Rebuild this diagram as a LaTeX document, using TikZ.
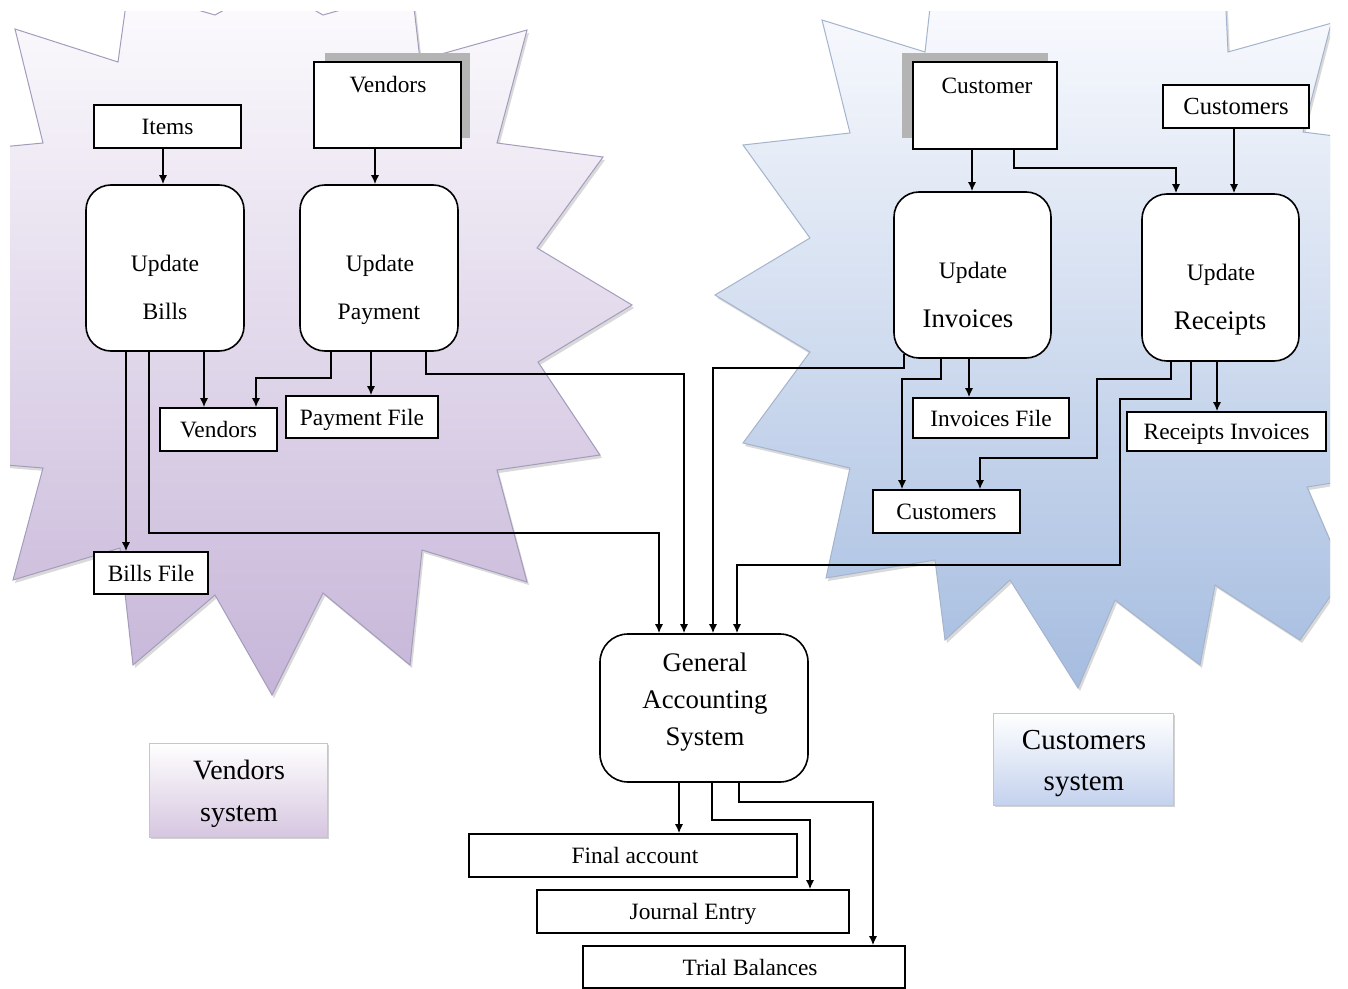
\documentclass[tikz,border=0pt]{standalone}
\usepackage{fontspec}
\setmainfont{Liberation Serif}
\usetikzlibrary{arrows.meta,shadows}
\definecolor{vtop}{HTML}{FDFCFE}
\definecolor{vmid}{HTML}{EDE7F2}
\definecolor{vbot}{HTML}{C6B5D8}
\definecolor{vline}{HTML}{A49CBC}
\definecolor{ctop}{HTML}{FAFBFE}
\definecolor{cmid}{HTML}{DEE6F4}
\definecolor{cbot}{HTML}{A6BDE0}
\definecolor{cline}{HTML}{A4B4CC}
\definecolor{shd}{HTML}{B4B4B4}
\definecolor{vsysb}{HTML}{D6C6E0}
\definecolor{csysb}{HTML}{C4D2EE}
\newcommand\fsz[2]{\fontsize{#1}{#2}\selectfont}
\begin{document}
\begin{tikzpicture}[x=0.5pt,y=-0.5pt,
  box/.style={draw=black, line width=0.8pt, fill=white, inner sep=0pt, rectangle},
  rbox/.style={box, rounded corners=12.5pt},
  arr/.style={line width=0.7pt, -{Latex[length=4.5pt,width=4pt]}},
  txt/.style={inner sep=0pt},
  small/.style={font=\fsz{11.7}{14}, text height=8.5pt, text depth=0.5pt},
  upd/.style={txt, font=\fsz{11.8}{14}, text height=8.5pt, text depth=0.5pt},
  big/.style={txt, font=\fsz{13.4}{16}, text height=9.5pt, text depth=0.5pt},
  sysbox/.style={draw=gray!45, line width=0.5pt, inner sep=0pt, align=center,
     drop shadow={shadow xshift=1.2pt, shadow yshift=-1.2pt, opacity=0.35}},
]
\useasboundingbox (0,0) rectangle (1348,989);
\fill[white] (0,0) rectangle (1348,989);

% ---------- starbursts ----------
\begin{scope}
\clip (10,12) rectangle (1330,989);
\def\leftstar{(15,29) -- (118,62) -- (128,-10) -- (215,15) -- (270,-15) -- (323,15) -- (412,-10) -- (420,60) -- (527,30) -- (497,143) -- (603,157) -- (537,248) -- (632,305) -- (538,362) -- (600,455) -- (497,470) -- (527,582) -- (422,550) -- (410,665) -- (323,593) -- (272,695) -- (215,595) -- (133,665) -- (120,548) -- (13,580) -- (43,468) -- (-30,462) -- (-30,150) -- (43,143) -- cycle}
\fill[gray!30, shift={(2,3)}] \leftstar;
\shade[top color=vtop, middle color=vmid, bottom color=vbot, draw=vline, line width=0.5pt] \leftstar;
\def\rightstar{(822,20) -- (925,52) -- (932,-10) -- (1225,-10) -- (1228,52) -- (1350,18) -- (1333,16) -- (1303,132) -- (1350,138) -- (1350,480) -- (1307,487) -- (1345,575) -- (1300,640) -- (1215,585) -- (1200,665) -- (1115,600) -- (1078,688) -- (1010,580) -- (945,640) -- (935,560) -- (826,578) -- (850,468) -- (743,443) -- (810,352) -- (715,295) -- (810,238) -- (743,145) -- (850,133) -- cycle}
\fill[gray!30, shift={(2,3)}] \rightstar;
\shade[top color=ctop, middle color=cmid, bottom color=cbot, draw=cline, line width=0.5pt] \rightstar;
\end{scope}

% ---------- shadows of the two source boxes ----------
\fill[shd] (325,53) rectangle (470,138);
\fill[shd] (902,53) rectangle (1048,138);

% ---------- boxes ----------
% vendors side
\node[box, small, minimum width=73.5pt, minimum height=21.5pt] (items) at (167.5,126.5) {Items};
\node[box, minimum width=73.5pt, minimum height=43pt] (vendtop) at (387.5,105) {};
\node[txt, small] (vendtop-t) at (388,85) {Vendors};
\node[rbox, minimum width=79pt, minimum height=83pt] (bills) at (165,268) {};
\node[upd] (bills-t1) at (165,264) {Update};
\node[upd] (bills-t2) at (165,312) {Bills};
\node[rbox, minimum width=79pt, minimum height=83pt] (pay) at (379,268) {};
\node[upd] (pay-t1) at (380,264) {Update};
\node[upd] (pay-t2) at (379,312) {Payment};
\node[box, small, minimum width=58.5pt, minimum height=21.5pt] (vendlow) at (218.5,429.5) {Vendors};
\node[box, small, minimum width=76pt, minimum height=21pt] (payfile) at (362,417) {Payment File};
\node[box, small, minimum width=57pt, minimum height=21pt] (billsfile) at (151,573) {Bills File};

% customers side
\node[box, minimum width=72pt, minimum height=43.5pt] (customer) at (985,105.5) {};
\node[txt, small] (customer-t) at (987,86) {Customer};
\node[box, font=\fsz{12.3}{14}, text height=8.8pt, text depth=0.5pt, minimum width=73pt, minimum height=21.5pt] (custtop) at (1236,106.5) {Customers};
\node[rbox, minimum width=78.5pt, minimum height=83pt] (inv) at (972.5,275) {};
\node[upd] (inv-t1) at (973,271) {Update};
\node[big] (inv-t2) at (968,319) {Invoices};
\node[rbox, minimum width=78.5pt, minimum height=83.5pt] (rec) at (1220.5,277.5) {};
\node[upd] (rec-t1) at (1221,273) {Update};
\node[big] (rec-t2) at (1220,321) {Receipts};
\node[box, small, minimum width=78pt, minimum height=20pt] (invfile) at (991,418) {Invoices File};
\node[box, small, minimum width=99.5pt, minimum height=19.5pt] (recinv) at (1226.5,431.5) {Receipts Invoices};
\node[box, small, minimum width=73.5pt, minimum height=21.5pt] (custlow) at (946.5,511.5) {Customers};

% general accounting
\node[box, rounded corners=14pt, minimum width=104pt, minimum height=74pt] (gas) at (704,708) {};
\node[txt, font=\fsz{13.4}{18.5}, align=center] (gas-t) at (705,702) {General\\Accounting\\System};
\node[box, small, minimum width=164pt, minimum height=21.5pt] (final) at (633,855.5) {\hspace*{2pt}Final account};
\node[box, small, minimum width=156pt, minimum height=21.5pt] (journal) at (693,911.5) {Journal Entry};
\node[box, small, minimum width=161pt, minimum height=21pt] (trial) at (744,967) {\hspace*{6pt}Trial Balances};

% system labels
\node[sysbox, top color=white, bottom color=vsysb, minimum width=89pt, minimum height=47pt] (vsys) at (238,790) {};
\node[txt, font=\fsz{14}{21}, align=center] (vsys-t) at (239,794) {Vendors\\system};
\node[sysbox, top color=white, bottom color=csysb, minimum width=90pt, minimum height=46pt] (csys) at (1083,759) {};
\node[txt, font=\fsz{14.5}{20.5}, align=center] (csys-t) at (1084,764) {Customers\\system};

% ---------- connectors ----------
% vendors side
\draw[arr] (items.south -| 163,0) -- (bills.north -| 163,0);
\draw[arr] (vendtop.south -| 375,0) -- (pay.north -| 375,0);
\draw[arr] (bills.south -| 204,0) -- (vendlow.north -| 204,0);
\draw[arr] (pay.south -| 331,0) -- (331,378) -- (256,378) -- (vendlow.north -| 256,0);
\draw[arr] (pay.south -| 371,0) -- (payfile.north -| 371,0);
\draw[arr] (pay.south -| 426,0) -- (426,374) -- (684,374) -- (gas.north -| 684,0);
\draw[arr] (bills.south -| 126,0) -- (billsfile.north -| 126,0);
\draw[arr] (bills.south -| 149,0) -- (149,533) -- (659,533) -- (gas.north -| 659,0);
% customers side
\draw[arr] (customer.south -| 972,0) -- (inv.north -| 972,0);
\draw[arr] (customer.south -| 1014,0) -- (1014,168) -- (1176,168) -- (rec.north -| 1176,0);
\draw[arr] (custtop.south -| 1234,0) -- (rec.north -| 1234,0);
\draw[arr] (inv.south -| 969,0) -- (invfile.north -| 969,0);
\draw[arr] (904,354) -- (904,368) -- (713,368) -- (gas.north -| 713,0);
\draw[arr] (inv.south -| 941,0) -- (941,379) -- (902,379) -- (custlow.north -| 902,0);
\draw[arr] (rec.south -| 1171,0) -- (1171,379) -- (1097,379) -- (1097,458) -- (980,458) -- (custlow.north -| 980,0);
\draw[arr] (rec.south -| 1191,0) -- (1191,399) -- (1120,399) -- (1120,565) -- (737,565) -- (gas.north -| 737,0);
\draw[arr] (rec.south -| 1217,0) -- (recinv.north -| 1217,0);
% outputs of the general accounting system
\draw[arr] (gas.south -| 679,0) -- (final.north -| 679,0);
\draw[arr] (gas.south -| 712,0) -- (712,820) -- (810,820) -- (journal.north -| 810,0);
\draw[arr] (gas.south -| 739,0) -- (739,802) -- (873,802) -- (trial.north -| 873,0);
\end{tikzpicture}
\end{document}
